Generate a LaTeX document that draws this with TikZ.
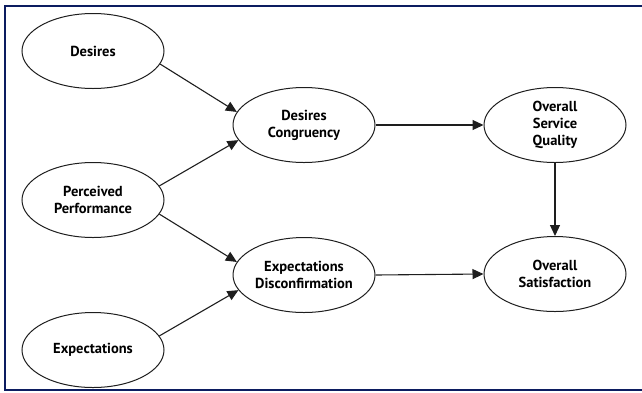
\documentclass[tikz,border=0pt]{standalone}
\usepackage{fontspec}
\setmainfont{PT Sans}
\usetikzlibrary{shapes.geometric,arrows.meta}
\definecolor{framenavy}{RGB}{12,28,96}
\definecolor{inkgray}{RGB}{30,30,30}
\tikzset{
  bubble/.style={ellipse, draw=inkgray, line width=1pt, minimum width=142pt, minimum height=75pt,
    inner sep=0pt, align=center, font=\bfseries\fontsize{14.5}{16.8}\selectfont, text=black},
  link/.style={draw=inkgray, line width=1.1pt, -{Triangle[length=11pt,width=10pt]}}
}
\begin{document}
\begin{tikzpicture}[x=1pt,y=-1pt]
\useasboundingbox (0,0) rectangle (642,392);
\clip (0,0) rectangle (642,392);
\draw[framenavy, line width=2.2pt] (5,6) rectangle (650,390);
\node[bubble] (des) at (93,51) {Desires};
\node[bubble] (pp) at (93,200) {Perceived\\Performance};
\node[bubble] (exp) at (93,350) {Expectations};
\node[bubble] (dc) at (304,125) {Desires\\Congruency};
\node[bubble] (ed) at (304,275) {Expectations\\Disconfirmation};
\node[bubble] (osq) at (555,125) {Overall\\Service\\Quality};
\node[bubble] (os) at (555,274) {Overall\\Satisfaction};
\draw[link] (des.-11) -- (dc.169);
\draw[link] (pp.12) -- (dc.193);
\draw[link] (pp.-12) -- (ed.169);
\draw[link] (exp.12) -- (ed.193);
\draw[link] (dc.east) -- (osq.west);
\draw[link] (ed.east) -- (os.west);
\draw[link] (osq.south) -- (os.north);
\end{tikzpicture}
\end{document}
